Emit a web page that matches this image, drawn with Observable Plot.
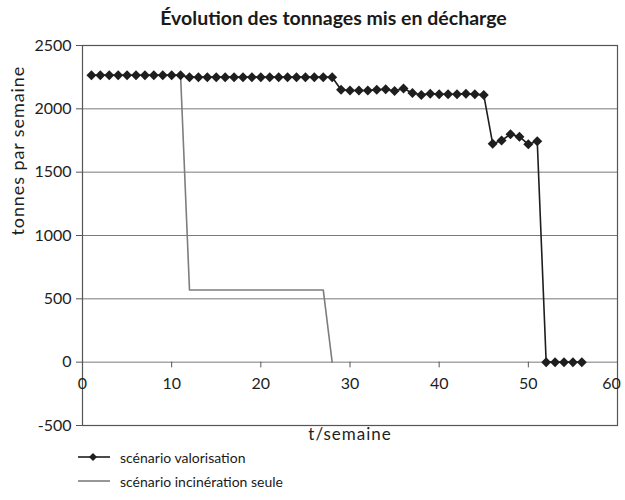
<!DOCTYPE html>
<html><head><meta charset="utf-8">
<script src="https://cdn.jsdelivr.net/npm/d3@7"></script>
<script src="https://cdn.jsdelivr.net/npm/@observablehq/plot@0.6"></script>
<style>
body{margin:0;background:#fff;font-family:Lato,"DejaVu Sans",sans-serif;color:#1a1a1a;}
#title{height:35px;box-sizing:border-box;padding-top:7px;padding-left:42px;text-align:center;font-weight:bold;font-size:19.5px;line-height:22px;}
#legend{position:relative;height:53px;font-size:14px;}
.row{position:absolute;left:76px;height:20px;display:flex;align-items:center;}
.row svg{margin-right:8px;}
</style></head>
<body>
<div id="title">Évolution des tonnages mis en décharge</div>
<div id="chart"></div>
<div id="legend"></div>
<script>
const seriesNames = ["scénario valorisation", "scénario incinération seule"];
const weeks = [1,2,3,4,5,6,7,8,9,10,11,12,13,14,15,16,17,18,19,20,21,22,23,24,25,26,27,28,
  29,30,31,32,33,34,35,36,37,38,39,40,41,42,43,44,45,46,47,48,49,50,51,52,53,54,55,56];
const valorisation = [2265,2265,2265,2265,2265,2265,2265,2265,2265,2265,2265,
  2250,2250,2250,2250,2250,2250,2250,2250,2250,2250,2250,2250,2250,2250,2250,2250,2250,
  2150,2145,2145,2145,2150,2155,2140,2160,2125,2110,2120,2115,2115,2115,2120,2115,2110,
  1725,1750,1800,1780,1720,1745,
  0,0,0,0,0];
const incinWeeks = [1,2,3,4,5,6,7,8,9,10,11,12,13,14,15,16,17,18,19,20,21,22,23,24,25,26,27,28];
const incineration = [2265,2265,2265,2265,2265,2265,2265,2265,2265,2265,2265,
  570,570,570,570,570,570,570,570,570,570,570,570,570,570,570,570,0];
const yTicks = [-500,0,500,1000,1500,2000,2500];
const xTickMarks = [10,20,30,40,50];
const xTickLabels = [0,10,20,30,40,50];
const xLastLabel = [60];
const xTitle = "t/semaine";
const yTitle = "tonnes par semaine";

const valData = weeks.map((w,i)=>({week:w, value:valorisation[i]}));
const incData = incinWeeks.map((w,i)=>({week:w, value:incineration[i]}));

const dark = "#1e1e1e", grid = "#7a7a7a", gray = "#7d7d7d";

const chart = Plot.plot({
  width: 625, height: 412,
  marginLeft: 82, marginRight: 8, marginTop: 10, marginBottom: 22,
  style: {fontFamily: "Lato, sans-serif", fontSize: "16px", color: dark, background: "#fff"},
  x: {domain: [0, 60], axis: null},
  y: {domain: [-500, 2500]},
  marks: [
    Plot.ruleY(yTicks, {stroke: grid, strokeWidth: 1}),
    Plot.frame({stroke: "#555", strokeWidth: 1.2}),
    Plot.axisY({ticks: yTicks, tickSize: 6, tickPadding: 5, tickFormat: d => String(d),
      label: null, stroke: "#555"}),
    Plot.text([yTitle], {frameAnchor: "left", rotate: -90, dx: -64, text: d => d, fontSize: 18}),
    Plot.ruleX(xTickMarks, {x: d => d, y1: 0, y2: -45, stroke: "#555"}),
    Plot.text(xTickLabels, {x: d => d, y: 0, dy: 22, text: d => String(d), fontSize: 16}),
    Plot.text(xLastLabel, {x: d => d, y: 0, dy: 22, dx: -6, text: d => String(d), fontSize: 16}),
    Plot.text([xTitle], {frameAnchor: "bottom", dy: 14, text: d => d, fontSize: 17}),
    Plot.line(incData, {x: "week", y: "value", stroke: gray, strokeWidth: 1.6}),
    Plot.line(valData, {x: "week", y: "value", stroke: dark, strokeWidth: 1.6}),
    Plot.dot(valData, {x: "week", y: "value", symbol: "diamond2", r: 4.5, fill: dark, stroke: "none"})
  ]
});
d3.select(chart).selectAll("text").filter(function(){ return this.textContent === yTitle; })
  .style("letter-spacing", "0.9px");
d3.select(chart).selectAll("text").filter(function(){ return this.textContent === xTitle; })
  .style("letter-spacing", "1px");
document.getElementById("chart").appendChild(chart);

const leg = document.getElementById("legend");
const colors = [dark, gray];
seriesNames.forEach((name, i) => {
  const row = document.createElement("div");
  row.className = "row";
  row.style.top = (i === 0 ? 0 : 24) + "px";
  const marker = i === 0 ? '<path d="M17 6 L21 10 L17 14 L13 10 Z" fill="'+dark+'"/>' : '';
  row.innerHTML = '<svg width="36" height="20"><line x1="2" x2="34" y1="10" y2="10" stroke="'+colors[i]+'" stroke-width="1.6"/>'+marker+'</svg><span>'+name+'</span>';
  leg.appendChild(row);
});
</script>
</body></html>
